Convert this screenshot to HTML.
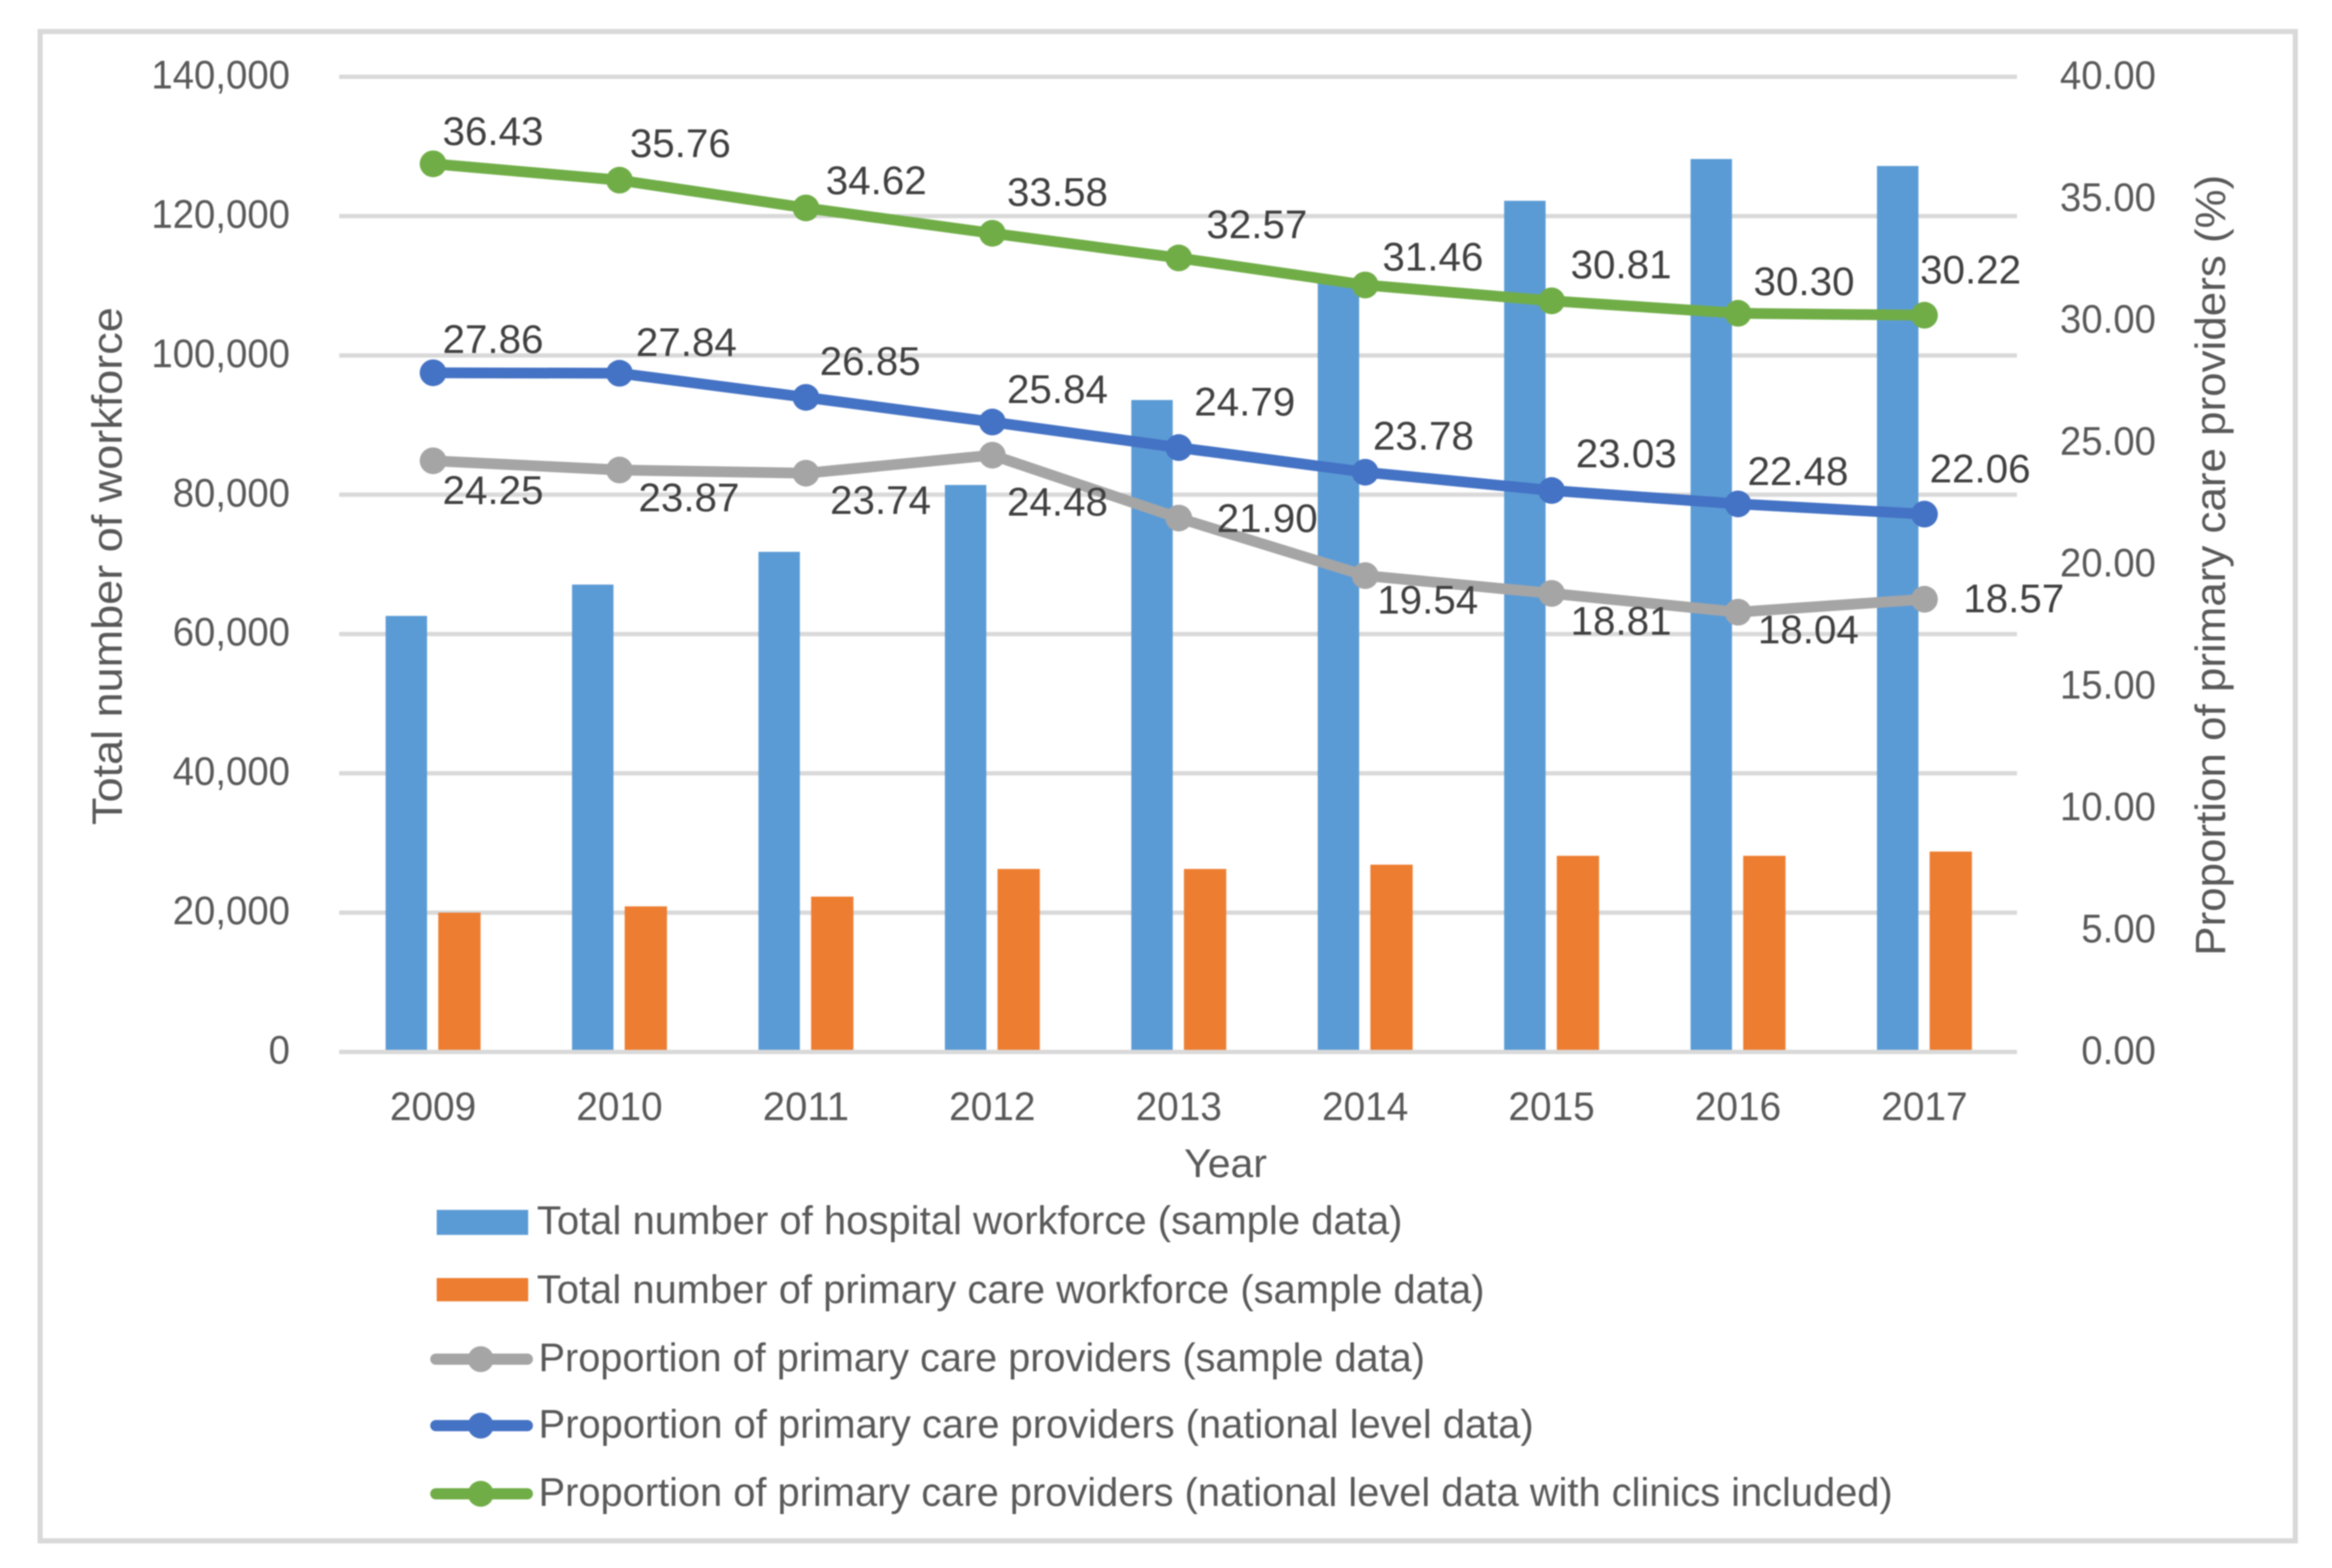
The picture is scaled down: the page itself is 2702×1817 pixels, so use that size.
<!DOCTYPE html>
<html lang="en">
<head>
<meta charset="utf-8">
<title>Workforce and proportion of primary care providers</title>
<style>
html,body{margin:0;padding:0;background:#fff;width:2702px;height:1817px;overflow:hidden}
svg{display:block;filter:blur(0.7px)}
text{font-family:"Liberation Sans",sans-serif}
</style>
</head>
<body>
<svg id="chart" xmlns="http://www.w3.org/2000/svg" width="2702" height="1817" viewBox="0 0 2702 1817">
  <rect x="46.5" y="36.5" width="2613" height="1749" fill="#fff" stroke="#d9d9d9" stroke-width="6"/>
  <g id="grid"></g>
  <g id="bars"></g>
  <g id="axisline"></g>
  <g id="lines"></g>
  <g id="labels"></g>
  <g id="ticks"></g>

  <text transform="translate(141,656) rotate(-90)" text-anchor="middle" font-size="49" fill="#595959" textLength="600" lengthAdjust="spacingAndGlyphs">Total number of workforce</text>
  <text transform="translate(2578,655) rotate(-90)" text-anchor="middle" font-size="49" fill="#595959" textLength="905" lengthAdjust="spacingAndGlyphs">Proportion of primary care providers (%)</text>
  <text x="1420" y="1364" text-anchor="middle" font-size="46" fill="#595959" textLength="96" lengthAdjust="spacingAndGlyphs">Year</text>

  <g>
    <g>
      <rect x="506" y="1402" width="106" height="29" fill="#5b9bd5"/>
      <text x="622" y="1430" font-size="46" fill="#595959" textLength="1003" lengthAdjust="spacingAndGlyphs">Total number of hospital workforce (sample data)</text>
    </g>
    <g>
      <rect x="506" y="1481" width="106" height="27" fill="#ed7d31"/>
      <text x="622" y="1510" font-size="46" fill="#595959" textLength="1098" lengthAdjust="spacingAndGlyphs">Total number of primary care workforce (sample data)</text>
    </g>
    <g>
      <line x1="505" y1="1575" x2="611" y2="1575" stroke="#a5a5a5" stroke-width="13" stroke-linecap="round"/>
      <circle cx="557" cy="1575" r="15" fill="#a5a5a5"/>
      <text x="624" y="1589" font-size="46" fill="#595959" textLength="1027" lengthAdjust="spacingAndGlyphs">Proportion of primary care providers (sample data)</text>
    </g>
    <g>
      <line x1="505" y1="1652" x2="611" y2="1652" stroke="#4472c4" stroke-width="13" stroke-linecap="round"/>
      <circle cx="557" cy="1652" r="15" fill="#4472c4"/>
      <text x="624" y="1666" font-size="46" fill="#595959" textLength="1153" lengthAdjust="spacingAndGlyphs">Proportion of primary care providers (national level data)</text>
    </g>
    <g>
      <line x1="505" y1="1731" x2="611" y2="1731" stroke="#70ad47" stroke-width="13" stroke-linecap="round"/>
      <circle cx="557" cy="1731" r="15" fill="#70ad47"/>
      <text x="624" y="1745" font-size="46" fill="#595959" textLength="1569" lengthAdjust="spacingAndGlyphs">Proportion of primary care providers (national level data with clinics included)</text>
    </g>
  </g>
</svg>
<script>
const years = ['2009','2010','2011','2012','2013','2014','2015','2016','2017'];
const hospitalWorkforce = [62600,67100,71800,81400,93600,111000,122200,128200,127200];
const primaryCareWorkforce = [20000,20900,22300,26270,26270,26890,28160,28160,28770];
const proportionSample = [24.25,23.87,23.74,24.48,21.90,19.54,18.81,18.04,18.57];
const proportionNational = [27.86,27.84,26.85,25.84,24.79,23.78,23.03,22.48,22.06];
const proportionClinics = [36.43,35.76,34.62,33.58,32.57,31.46,30.81,30.30,30.22];
const leftTicks = [0,20000,40000,60000,80000,100000,120000,140000];
const rightTicks = [0,5,10,15,20,25,30,35,40];

/* hand-placed label nudges (layout, relative to each point) */
const sampleLabelDx = [11,22,28,17,44,14,22,23,45];
const sampleLabelDy = [34,32,31,54,0,28,32,20,-1];
const nationalLabelDx = [11,19,16,17,18,9,28,11,6];
const nationalLabelDy = [-39,-36,-42,-38,-53,-42,-43,-38,-53];
const clinicsLabelDx = [11,12,23,17,32,20,22,18,-5];
const clinicsLabelDy = [-38,-43,-32,-48,-39,-33,-42,-37,-53];

const plotLeft = 393, plotRight = 2337, plotTop = 89, plotBottom = 1219;
const categoryShift = 0.8;
const leftMax = 140000, rightMax = 40;
const SVGNS = 'http://www.w3.org/2000/svg';

function xScale(i){ return plotLeft + categoryShift + (i + 0.5) * (plotRight - plotLeft) / years.length; }
function yLeft(v){ return plotBottom - v / leftMax * (plotBottom - plotTop); }
function yRight(v){ return plotBottom - v / rightMax * (plotBottom - plotTop); }
function make(tag, parent, attrs){
  const n = document.createElementNS(SVGNS, tag);
  for (const k in attrs) n.setAttribute(k, attrs[k]);
  parent.appendChild(n);
  return n;
}
/* natural width of a numeric string at the 44.5px Liberation metrics, used to condense taller glyphs */
function numericWidth(s){
  let w = 0;
  for (const ch of s) w += (ch === ',' || ch === '.') ? 12.4 : 24.7;
  return w;
}

const gridG = document.getElementById('grid');
const barsG = document.getElementById('bars');
const axisG = document.getElementById('axisline');
const linesG = document.getElementById('lines');
const labelsG = document.getElementById('labels');
const ticksG = document.getElementById('ticks');

leftTicks.forEach(function(t){
  const gl = make('line', t === 0 ? axisG : gridG, {x1:plotLeft, x2:plotRight, y1:yLeft(t), y2:yLeft(t), stroke:'#d9d9d9', 'stroke-width':5});
  
  
  const str = t.toLocaleString('en-US');
  const tl = make('text', ticksG, {x:336, y:yLeft(t) + 13.5, 'text-anchor':'end', 'font-size':46, fill:'#595959', textLength:numericWidth(str), lengthAdjust:'spacingAndGlyphs'});
  
  
  tl.textContent = str;
});

rightTicks.forEach(function(t){
  const str = t.toFixed(2);
  const tl = make('text', ticksG, {x:2498, y:yRight(t) + 14, 'text-anchor':'end', 'font-size':46, fill:'#595959', textLength:numericWidth(str), lengthAdjust:'spacingAndGlyphs'});
  
  
  tl.textContent = str;
});

years.forEach(function(y, i){
  const tl = make('text', ticksG, {x:xScale(i), y:1298, 'text-anchor':'middle', 'font-size':46, fill:'#595959', textLength:100, lengthAdjust:'spacingAndGlyphs'});
  
  
  tl.textContent = y;

  const h = make('rect', barsG, {x:xScale(i) - 55, y:yLeft(hospitalWorkforce[i]), width:48, height:plotBottom - yLeft(hospitalWorkforce[i]), fill:'#5b9bd5'});
  
  

  const p = make('rect', barsG, {x:xScale(i) + 6, y:yLeft(primaryCareWorkforce[i]), width:49, height:plotBottom - yLeft(primaryCareWorkforce[i]), fill:'#ed7d31'});
  
  
});

function drawLine(values, color, dxs, dys, name){
  const pts = values.map(function(v, i){ return xScale(i) + ',' + yRight(v); }).join(' ');
  const pl = make('polyline', linesG, {points:pts, fill:'none', stroke:color, 'stroke-width':12.5, 'stroke-linejoin':'round', 'stroke-linecap':'round'});
  
  
  values.forEach(function(v, i){
    const c = make('circle', linesG, {cx:xScale(i), cy:yRight(v), r:15.5, fill:color});
    
    
    const t = make('text', labelsG, {x:xScale(i) + dxs[i], y:yRight(v) + dys[i] + 16, 'font-size':46, fill:'#404040', textLength:117, lengthAdjust:'spacingAndGlyphs'});
    
    
    t.textContent = v.toFixed(2);
  });
}
drawLine(proportionSample, '#a5a5a5', sampleLabelDx, sampleLabelDy, 'proportion-sample');
drawLine(proportionNational, '#4472c4', nationalLabelDx, nationalLabelDy, 'proportion-national');
drawLine(proportionClinics, '#70ad47', clinicsLabelDx, clinicsLabelDy, 'proportion-clinics');
</script>
</body>
</html>
